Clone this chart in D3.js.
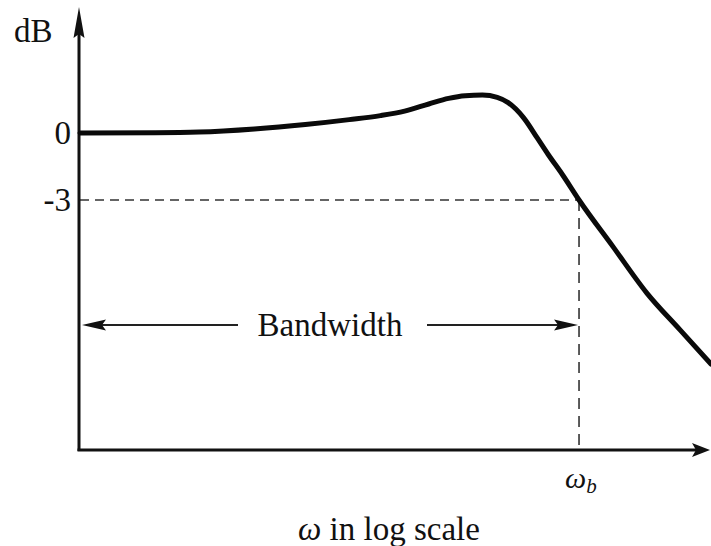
<!DOCTYPE html>
<html>
<head>
<meta charset="utf-8">
<script src="https://cdn.jsdelivr.net/npm/d3@7/dist/d3.min.js"></script>
<style>
  html, body { margin: 0; padding: 0; background: #fff; }
  svg { display: block; }
  text { font-family: "Liberation Serif", "DejaVu Serif", serif; fill: #111; }
</style>
</head>
<body>
<svg id="chart" width="711" height="546"></svg>
<script>
// ---- data ----
const omega       = [0.01, 0.02, 0.03, 0.05, 0.08, 0.12, 0.16, 0.2, 0.25, 0.3, 0.35, 0.41, 0.47, 0.52, 0.6, 0.68, 0.75, 0.86, 1.0, 1.37, 1.87, 2.54, 3.38];
const magnitudeDb = [0.0, 0.01, 0.04, 0.18, 0.38, 0.6, 0.78, 0.98, 1.3, 1.55, 1.67, 1.70, 1.6, 1.36, 0.68, -0.22, -0.94, -1.88, -3.0, -5.1, -7.17, -8.82, -10.35];
const yTickValues = [0, -3];
const yTickLabels = ["0", "-3"];
const cutoffOmega = 1.0;   // ω_b
const cutoffDb = -3;
const omegaDomain = [0.01, 3.38];
const dbDomain = [-14.2, 5.6];
const yAxisTitle = "dB";
const bandwidthLabel = "Bandwidth";

// ---- layout ----
const FS = 33;
const svg = d3.select("#chart");
const x = d3.scaleLog().domain(omegaDomain).range([80, 711]);
const y = d3.scaleLinear().domain(dbDomain).range([450, 8]);

const x0 = x(omegaDomain[0]);
const yBase = y(dbDomain[0]);

// dashed -3 dB guide lines
svg.append("line")
  .attr("x1", x0).attr("x2", x(cutoffOmega))
  .attr("y1", y(cutoffDb)).attr("y2", y(cutoffDb))
  .attr("stroke", "#333").attr("stroke-width", 1.6).attr("stroke-dasharray", "9,6");
svg.append("line")
  .attr("x1", x(cutoffOmega)).attr("x2", x(cutoffOmega))
  .attr("y1", y(cutoffDb)).attr("y2", yBase)
  .attr("stroke", "#333").attr("stroke-width", 1.6).attr("stroke-dasharray", "11,7");

// axes lines with arrowheads
svg.append("line")
  .attr("x1", x0 - 1).attr("x2", x0 - 1)
  .attr("y1", yBase + 1).attr("y2", 20)
  .attr("stroke", "#111").attr("stroke-width", 3);
svg.append("path")
  .attr("d", `M${x0 - 1},7 L${x0 - 6.5},38 L${x0 - 1},34 L${x0 + 4.5},38 Z`)
  .attr("fill", "#111");

svg.append("line")
  .attr("x1", x0 - 2.5).attr("x2", 700)
  .attr("y1", yBase).attr("y2", yBase)
  .attr("stroke", "#111").attr("stroke-width", 3);
svg.append("path")
  .attr("d", `M710,${yBase} L692,${yBase - 7} L696,${yBase} L692,${yBase + 7} Z`)
  .attr("fill", "#111");

// y tick labels via d3 axis
const yAxis = d3.axisLeft(y)
  .tickValues(yTickValues)
  .tickSize(0)
  .tickPadding(9)
  .tickFormat((d, i) => yTickLabels[i]);
const gy = svg.append("g").attr("transform", `translate(${x0},0)`).call(yAxis);
gy.select(".domain").remove();
gy.selectAll("text")
  .attr("font-family", "Liberation Serif, serif")
  .attr("font-size", FS)
  .attr("fill", "#111");

// y axis title
svg.append("text")
  .attr("x", 14).attr("y", 42)
  .attr("font-size", FS)
  .text(yAxisTitle);

// magnitude curve
const line = d3.line()
  .x((d, i) => x(omega[i]))
  .y((d, i) => y(magnitudeDb[i]))
  .curve(d3.curveMonotoneX);
svg.append("path")
  .datum(omega)
  .attr("d", line)
  .attr("fill", "none")
  .attr("stroke", "#0a0a0a")
  .attr("stroke-width", 5)
  .attr("stroke-linejoin", "round")
  .attr("stroke-linecap", "round");

// bandwidth annotation
const bwY = 325;
const bwLeft = x0 + 2;
const bwRight = x(cutoffOmega) - 1;
svg.append("line")
  .attr("x1", bwLeft + 10).attr("x2", 238)
  .attr("y1", bwY).attr("y2", bwY)
  .attr("stroke", "#222").attr("stroke-width", 1.8);
svg.append("line")
  .attr("x1", 427).attr("x2", bwRight - 10)
  .attr("y1", bwY).attr("y2", bwY)
  .attr("stroke", "#222").attr("stroke-width", 1.8);
svg.append("path")
  .attr("d", `M${bwLeft},${bwY} L${bwLeft + 24},${bwY - 5.5} L${bwLeft + 20},${bwY} L${bwLeft + 24},${bwY + 5.5} Z`)
  .attr("fill", "#111");
svg.append("path")
  .attr("d", `M${bwRight},${bwY} L${bwRight - 24},${bwY - 5.5} L${bwRight - 20},${bwY} L${bwRight - 24},${bwY + 5.5} Z`)
  .attr("fill", "#111");
svg.append("text")
  .attr("x", 330).attr("y", 336)
  .attr("text-anchor", "middle")
  .attr("font-size", FS)
  .text(bandwidthLabel);

// ω_b label
const wb = svg.append("text")
  .attr("x", x(cutoffOmega) - 14).attr("y", 488)
  .attr("font-size", 30);
wb.append("tspan").attr("font-style", "italic").text("ω");
wb.append("tspan").attr("font-style", "italic").attr("font-size", 21).attr("dy", 5).text("b");

// x axis title
const xt = svg.append("text")
  .attr("x", 298).attr("y", 540)
  .attr("font-size", FS);
xt.append("tspan").attr("font-style", "italic").text("ω");
xt.append("tspan").text(" in log scale");
</script>
</body>
</html>
